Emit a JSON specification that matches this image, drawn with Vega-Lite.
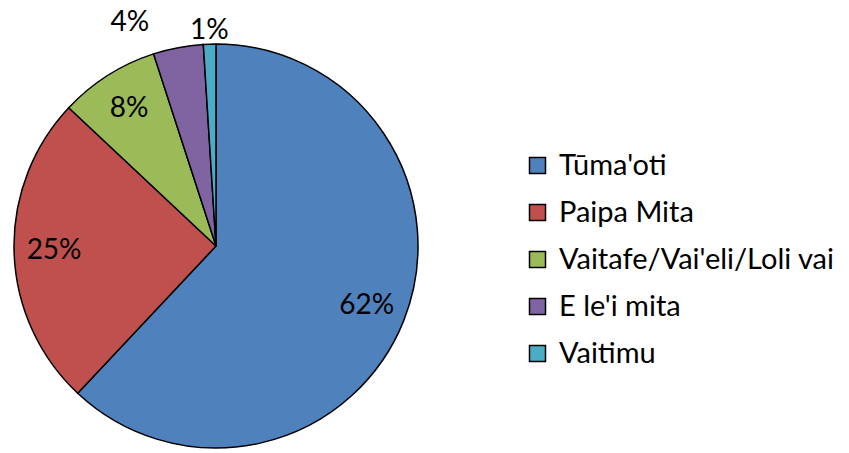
{
  "$schema": "https://vega.github.io/schema/vega-lite/v6.json",
  "width": 404,
  "height": 404,
  "padding": {"left": 14, "top": 44, "right": 431, "bottom": 5},
  "autosize": {"type": "none"},
  "background": "white",
  "config": {"view": {"stroke": null}, "font": "Lato"},
  "data": {
    "values": [
      {"category": "Tūma'oti", "pct": 62, "label": "62%", "order": 1},
      {"category": "Paipa Mita", "pct": 25, "label": "25%", "order": 2},
      {"category": "Vaitafe/Vai'eli/Loli vai", "pct": 8, "label": "8%", "order": 3},
      {"category": "E le'i mita", "pct": 4, "label": "4%", "order": 4},
      {"category": "Vaitimu", "pct": 1, "label": "1%", "order": 5}
    ]
  },
  "encoding": {
    "theta": {"field": "pct", "type": "quantitative", "stack": true},
    "order": {"field": "order", "type": "quantitative"},
    "color": {
      "field": "category",
      "type": "nominal",
      "sort": ["Tūma'oti", "Paipa Mita", "Vaitafe/Vai'eli/Loli vai", "E le'i mita", "Vaitimu"],
      "scale": {
        "domain": ["Tūma'oti", "Paipa Mita", "Vaitafe/Vai'eli/Loli vai", "E le'i mita", "Vaitimu"],
        "range": ["#4F81BD", "#C0504D", "#9BBB59", "#8064A2", "#4BACC6"]
      },
      "legend": {
        "title": null,
        "orient": "none",
        "legendX": 509,
        "legendY": 107,
        "symbolType": "square",
        "symbolSize": 256,
        "symbolStrokeColor": "black",
        "symbolStrokeWidth": 1.5,
        "symbolOpacity": 1,
        "labelFont": "Lato",
        "labelFontSize": 29,
        "labelColor": "black",
        "labelOffset": 7,
        "labelLimit": 400,
        "rowPadding": 17
      }
    }
  },
  "layer": [
    {"mark": {"type": "arc", "outerRadius": 202, "stroke": "black", "strokeWidth": 1.5}},
    {
      "mark": {"type": "text", "radius": 162, "fontSize": 28, "font": "Lato", "color": "black"},
      "encoding": {"text": {"condition": {"test": "datum.pct >= 8", "field": "label"}, "value": ""}, "color": {"value": "black"}}
    },
    {
      "mark": {"type": "text", "radius": 215, "fontSize": 28, "font": "Lato", "color": "black"},
      "encoding": {"text": {"condition": {"test": "datum.pct == 1", "field": "label"}, "value": ""}, "color": {"value": "black"}}
    },
    {
      "mark": {"type": "text", "radius": 219, "dx": -45, "dy": -8, "fontSize": 28, "font": "Lato", "color": "black"},
      "encoding": {"text": {"condition": {"test": "datum.pct == 4", "field": "label"}, "value": ""}, "color": {"value": "black"}}
    }
  ]
}
